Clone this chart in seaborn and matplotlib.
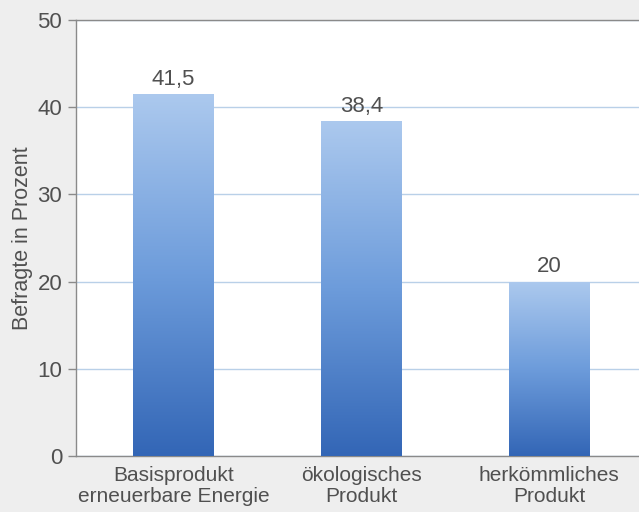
import numpy as np
import pandas as pd
import matplotlib
matplotlib.use("Agg")
import matplotlib.pyplot as plt
import seaborn as sns
from matplotlib.colors import LinearSegmentedColormap

# Data
categories = ["Basisprodukt\nerneuerbare Energie", "ökologisches\nProdukt", "herkömmliches\nProdukt"]
values = [41.5, 38.4, 20]
value_labels = ["41,5", "38,4", "20"]

df = pd.DataFrame({"Kategorie": categories, "Prozent": values})

sns.set_theme(style="white")
plt.rcParams["font.family"] = ["Liberation Sans", "DejaVu Sans"]

text_color = "#505050"
fig = plt.figure(figsize=(6.39, 5.12), dpi=100, facecolor="#eeeeee")
ax = fig.add_axes([0.119, 0.109, 0.881, 0.852])
ax.set_facecolor("white")

sns.barplot(data=df, x="Kategorie", y="Prozent", color="#5b8fd4", width=0.43, ax=ax, zorder=2)

# vertical gradient fill for each bar
cmap = LinearSegmentedColormap.from_list("blues", ["#3366b6", "#6d9cdb", "#acc9ee"])
grad = np.linspace(0, 1, 256).reshape(-1, 1)
for bar in ax.patches:
    x0, y0 = bar.get_x(), bar.get_y()
    w, h = bar.get_width(), bar.get_height()
    im = ax.imshow(grad, cmap=cmap, origin="lower", aspect="auto",
                   extent=[x0, x0 + w, y0, y0 + h], zorder=3)
    im.set_clip_path(bar)
    bar.set_facecolor("none")
    bar.set_edgecolor("none")

for i, (v, lab) in enumerate(zip(values, value_labels)):
    ax.text(i, v + 0.5, lab, ha="center", va="bottom", fontsize=16, color=text_color, zorder=4)

ax.set_xlim(-0.52, 2.48)
ax.set_ylim(0, 50)
ax.set_yticks([0, 10, 20, 30, 40, 50])
ax.yaxis.grid(True, color="#b9d0e8", linewidth=1)
ax.set_axisbelow(True)

for side in ["left", "bottom", "top"]:
    ax.spines[side].set_visible(True)
    ax.spines[side].set_color("#8a8a8a")
    ax.spines[side].set_linewidth(1)
ax.spines["right"].set_visible(False)

ax.tick_params(axis="y", which="major", left=True, length=6, width=1, color="#8a8a8a",
               labelsize=16, labelcolor=text_color, pad=4)
ax.tick_params(axis="x", bottom=False, labelsize=15, labelcolor=text_color, pad=1)
for t in ax.get_xticklabels():
    t.set_linespacing(1.15)

ax.set_xlabel("")
ax.set_ylabel("Befragte in Prozent", fontsize=15.5, color=text_color, labelpad=3)

fig.savefig("out.png", dpi=100, facecolor=fig.get_facecolor())
